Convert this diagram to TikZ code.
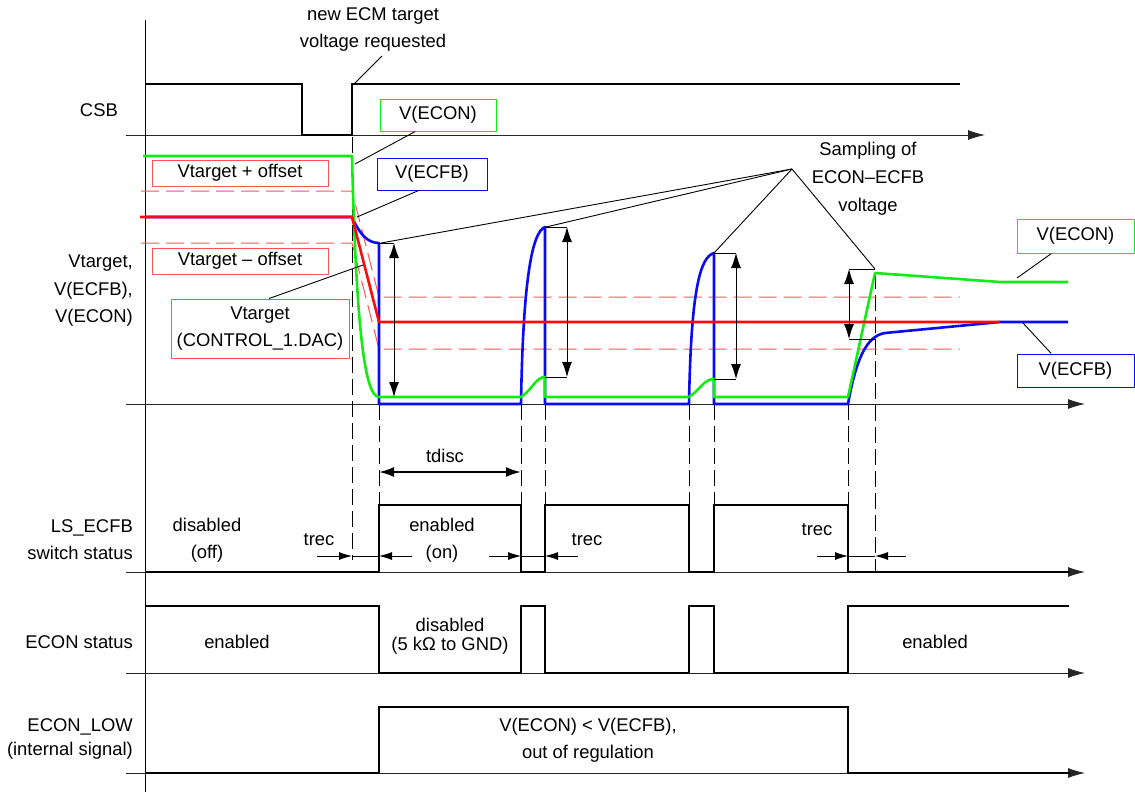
\documentclass[tikz,border=0pt]{standalone}
\usepackage{fontspec}
\setmainfont{Liberation Sans}
\usetikzlibrary{arrows.meta}

\definecolor{wgreen}{RGB}{20,235,20}
\definecolor{wblue}{RGB}{10,10,245}
\definecolor{wred}{RGB}{255,10,10}
\definecolor{lred}{RGB}{255,85,85}

\begin{document}
\begin{tikzpicture}[x=1pt,y=-1pt,
  every node/.style={font=\fontsize{18.4}{27}\selectfont,inner sep=0pt},
  axis/.style={line width=0.9pt,black!85,-{Latex[length=17pt,width=10pt]}},
  wave/.style={line width=2.4pt,line join=miter},
  vline/.style={line width=0.9pt,dash pattern=on 16pt off 6pt},
  rdash/.style={line width=1pt,lred,dash pattern=on 18pt off 7pt},
  sig/.style={line width=2.6pt,line join=round},
  tag/.style={draw,line width=1pt,align=center,text=black},
  dim/.style={line width=0.9pt,{Latex[length=15pt,width=10pt]}-{Latex[length=15pt,width=10pt]}},
  tip/.style={line width=0.9pt,-{Latex[length=13pt,width=8pt]}},
  ptr/.style={line width=0.9pt}]
\useasboundingbox (0,0) rectangle (1135,792);

% axes
\draw[line width=0.9pt] (145,20) -- (145,792);
\foreach \y/\e in {135/985,404/1085,572/1085,673/1085,773/1085}
  \draw[axis] (126,\y) -- (\e,\y);

% CSB
\draw[wave] (145,84) -- (302,84) -- (302,135) -- (352,135) -- (352,84) -- (960,84);
\node[anchor=east] (csb) at (118,110) {CSB};
\node[align=center] (newecm) at (373,29) {new ECM target\\voltage requested};
\coordinate (reqpt) at (382,56);
\coordinate (csbup) at (354,84);
\draw[ptr] (reqpt) -- (csbup);

% time marks
\draw[vline] (352,137) -- (352,560);
\foreach \x in {379,521,545,689,714,848} \draw[vline] (\x,404) -- (\x,505);
\draw[vline] (875,273) -- (875,572);

% analog levels
\draw[rdash] (141,191) -- (352,191) -- (379,297) -- (960,297);
\draw[rdash] (141,243) -- (352,243) -- (379,349) -- (960,349);
\draw[sig,wblue] (145,217) -- (352,217) .. controls (360,235) and (368,243) .. (379,243) -- (379,404) -- (521,404)
  .. controls (523,280) and (532,232) .. (545,227) -- (545,404) -- (689,404)
  .. controls (691,290) and (700,257) .. (714,253) -- (714,404) -- (848,404)
  .. controls (856,360) and (866,336) .. (885,333) -- (1000,322) -- (1068,322);
\draw[sig,wgreen] (143,156) -- (352,156) .. controls (356,320) and (364,397) .. (379,397) -- (521,397)
  .. controls (532,390) and (536,377) .. (545,377) -- (545,397) -- (689,397)
  .. controls (700,390) and (704,379) .. (714,379) -- (714,397) -- (848,397) -- (875,273) -- (1000,282) -- (1068,282);
\draw[sig,wred] (140,217) -- (352,217) -- (379,322) -- (1000,322);

\node[anchor=east,align=right,font=\fontsize{18.4}{27.5}\selectfont] (vlab) at (133,291) {Vtarget,\\V(ECFB),\\V(ECON)};
\node[tag,draw=lred,minimum width=176pt,minimum height=26pt] (vplus) at (240,173) {Vtarget + offset};
\node[tag,draw=lred,minimum width=176pt,minimum height=26pt] (vminus) at (240,261) {Vtarget -- offset};
\node[tag,draw=lred,minimum width=178pt,minimum height=59pt] (vdac) at (260,328.5) {Vtarget\\(CONTROL\_1.DAC)};
\node[tag,draw=wgreen,minimum width=116pt,minimum height=32pt] (econA) at (438,115) {V(ECON)};
\node[tag,draw=wblue,minimum width=110pt,minimum height=32pt] (ecfbA) at (432,174) {V(ECFB)};
\node[tag,draw=wgreen,minimum width=117pt,minimum height=34pt] (econB) at (1075.5,236) {V(ECON)};
\node[tag,draw=wblue,minimum width=117pt,minimum height=33pt] (ecfbB) at (1075.5,370.5) {V(ECFB)};
\coordinate (vdacpt) at (363,265);
\coordinate (econApt) at (355,164);
\coordinate (ecfbApt) at (357,217);
\coordinate (econBpt) at (1017,278);
\coordinate (ecfbBpt) at (1023,323);
\draw[ptr] (vdac.73) -- (vdacpt);
\draw[ptr] (econA.216) -- (econApt);
\draw[ptr] (ecfbA.231) -- (ecfbApt);
\draw[ptr] (econB.216) -- (econBpt);
\draw[ptr] (ecfbB.145) -- (ecfbBpt);

% sampling
\node[align=center,font=\fontsize{18.4}{28}\selectfont] (samp) at (868,179) {Sampling of\\ECON--ECFB\\voltage};
\coordinate (apex) at (792,169);
\coordinate (s1) at (381,243);
\coordinate (s2) at (546,227);
\coordinate (s3) at (714,253);
\coordinate (s4) at (875,269);
\foreach \p in {s1,s2,s3,s4} \draw[ptr] (apex) -- (\p);
\draw[ptr] (379,243) -- (394,243);
\draw[dim] (394,243) -- (394,397);
\draw[ptr] (545,227) -- (567,227);
\draw[ptr] (545,377) -- (567,377);
\draw[dim] (567,227) -- (567,377);
\draw[ptr] (714,253) -- (736,253);
\draw[ptr] (714,379) -- (736,379);
\draw[dim] (736,253) -- (736,379);
\draw[ptr] (849,269) -- (875,269);
\draw[ptr] (849,339) -- (875,339);
\draw[dim] (849,269) -- (849,339);

% LS_ECFB
\draw[wave] (145,572) -- (379,572) -- (379,505) -- (521,505) -- (521,572) -- (545,572) -- (545,505) -- (689,505)
  -- (689,572) -- (714,572) -- (714,505) -- (848,505) -- (848,572) -- (1070,572);
\node[anchor=east,align=right] (lslab) at (133,540) {LS\_ECFB\\switch status};
\node[align=center] (offtxt) at (207,540) {disabled\\(off)};
\node[align=center] (ontxt) at (442,540) {enabled\\(on)};
\node (tdisc) at (445,456) {tdisc};
\draw[dim,line width=2pt] (379,472) -- (521,472);
\node (trecA) at (319,540) {trec};
\node (trecB) at (587,540) {trec};
\node (trecC) at (817,530) {trec};
\draw[tip] (317,556) -- (352,556);
\draw[ptr] (352,556) -- (379,556);
\draw[tip] (412,556) -- (379,556);
\draw[tip] (489,556) -- (521,556);
\draw[ptr] (521,556) -- (545,556);
\draw[tip] (578,556) -- (545,556);
\draw[tip] (817,556) -- (848,556);
\draw[ptr] (848,556) -- (875,556);
\draw[tip] (906,556) -- (875,556);

% ECON status
\draw[wave] (145,606) -- (379,606) -- (379,673) -- (521,673) -- (521,606) -- (545,606) -- (545,673) -- (689,673)
  -- (689,606) -- (714,606) -- (714,673) -- (848,673) -- (848,606) -- (1069,606);
\node[anchor=east] (econlab) at (133,642) {ECON status};
\node (enA) at (237,642) {enabled};
\node[align=center,font=\fontsize{18.4}{19.5}\selectfont] (disB) at (450,636) {disabled\\(5 kΩ to GND)};
\node (enC) at (935,642) {enabled};

% ECON_LOW
\draw[wave] (145,773) -- (379,773) -- (379,707) -- (848,707) -- (848,773) -- (1070,773);
\node[anchor=east,align=right,font=\fontsize{18.4}{24}\selectfont] (lowlab) at (133,739) {ECON\_LOW\\(internal signal)};
\node[align=center] (lowtxt) at (588,740) {V(ECON) < V(ECFB),\\out of regulation};

\end{tikzpicture}
\end{document}
